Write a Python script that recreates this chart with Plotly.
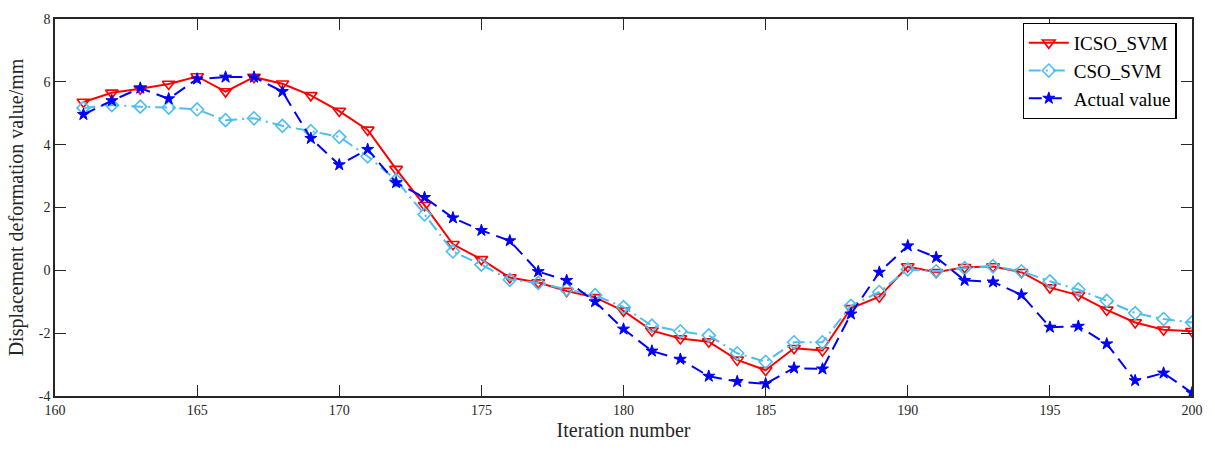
import plotly.graph_objects as go

iterations = list(range(161, 201))
icso_svm = [5.36, 5.65, 5.78, 5.93, 6.17, 5.69, 6.15, 5.94, 5.57, 5.07,
            4.47, 3.22, 2.07, 0.83, 0.35, -0.23, -0.39, -0.66, -0.86, -1.29,
            -1.92, -2.17, -2.27, -2.85, -3.18, -2.48, -2.55, -1.21, -0.84, 0.12,
            -0.06, 0.10, 0.12, -0.06, -0.55, -0.79, -1.26, -1.66, -1.89, -1.94]
cso_svm = [5.17, 5.26, 5.21, 5.18, 5.12, 4.78, 4.84, 4.60, 4.43, 4.25,
           3.63, 2.87, 1.78, 0.60, 0.18, -0.30, -0.40, -0.61, -0.79, -1.17,
           -1.76, -1.94, -2.07, -2.64, -2.91, -2.29, -2.29, -1.13, -0.69, 0.03,
           -0.03, 0.07, 0.13, -0.03, -0.35, -0.61, -0.97, -1.36, -1.55, -1.66]
actual = [4.96, 5.40, 5.80, 5.46, 6.09, 6.15, 6.15, 5.69, 4.20, 3.36,
          3.85, 2.79, 2.32, 1.67, 1.27, 0.94, -0.04, -0.32, -1.00, -1.87,
          -2.57, -2.83, -3.37, -3.54, -3.61, -3.11, -3.14, -1.39, -0.06, 0.78,
          0.41, -0.32, -0.37, -0.78, -1.81, -1.78, -2.34, -3.51, -3.27, -3.90]
x_ticks = [160, 165, 170, 175, 180, 185, 190, 195, 200]
y_ticks = [-4, -2, 0, 2, 4, 6, 8]

FONT = "Liberation Serif"

fig = go.Figure()
fig.add_trace(go.Scatter(
    x=iterations, y=icso_svm, name="ICSO_SVM", mode="lines+markers",
    line=dict(color="#FF0000", width=2),
    marker=dict(symbol="triangle-down-open", size=11, color="#FF0000", line=dict(width=1.6))))
fig.add_trace(go.Scatter(
    x=iterations, y=cso_svm, name="CSO_SVM", mode="lines+markers",
    line=dict(color="#4DBEEE", width=2, dash="12px,5px,2px,5px"),
    marker=dict(symbol="diamond-open", size=10, color="#4DBEEE", line=dict(width=1.6))))
fig.add_trace(go.Scatter(
    x=iterations, y=actual, name="Actual value", mode="lines+markers",
    line=dict(color="#0000FF", width=2, dash="13px,7px"),
    marker=dict(symbol="star", size=9, color="#0000FF", line=dict(width=1, color="#0000FF"))))

axis_common = dict(
    showgrid=False, zeroline=False, showline=True, linecolor="#262626", linewidth=1.5,
    mirror="ticks", ticks="inside", ticklen=11, tickwidth=1.2, tickcolor="#262626",
    tickfont=dict(family=FONT, size=14, color="#262626"),
)
fig.update_xaxes(range=[160, 200], tickvals=x_ticks, ticktext=[str(v) for v in x_ticks],
                 title=dict(text="Iteration number", font=dict(family=FONT, size=20, color="#262626"), standoff=6),
                 **axis_common)
fig.update_yaxes(range=[-4, 8], tickvals=y_ticks, ticktext=[str(v) for v in y_ticks],
                 title=dict(text="Displacement deformation value/mm", font=dict(family=FONT, size=20, color="#262626"), standoff=10),
                 **axis_common)

fig.update_layout(
    width=1215, height=450,
    margin=dict(l=55, r=22, t=15, b=53),
    plot_bgcolor="white", paper_bgcolor="white",
    font=dict(family=FONT, color="#262626"),
    legend=dict(x=0.851, y=0.99, xanchor="left", yanchor="top",
                bgcolor="white", bordercolor="black", borderwidth=1.2,
                font=dict(family=FONT, size=19, color="black"),
                tracegroupgap=0, itemwidth=40),
)

fig.write_html("out.html")
